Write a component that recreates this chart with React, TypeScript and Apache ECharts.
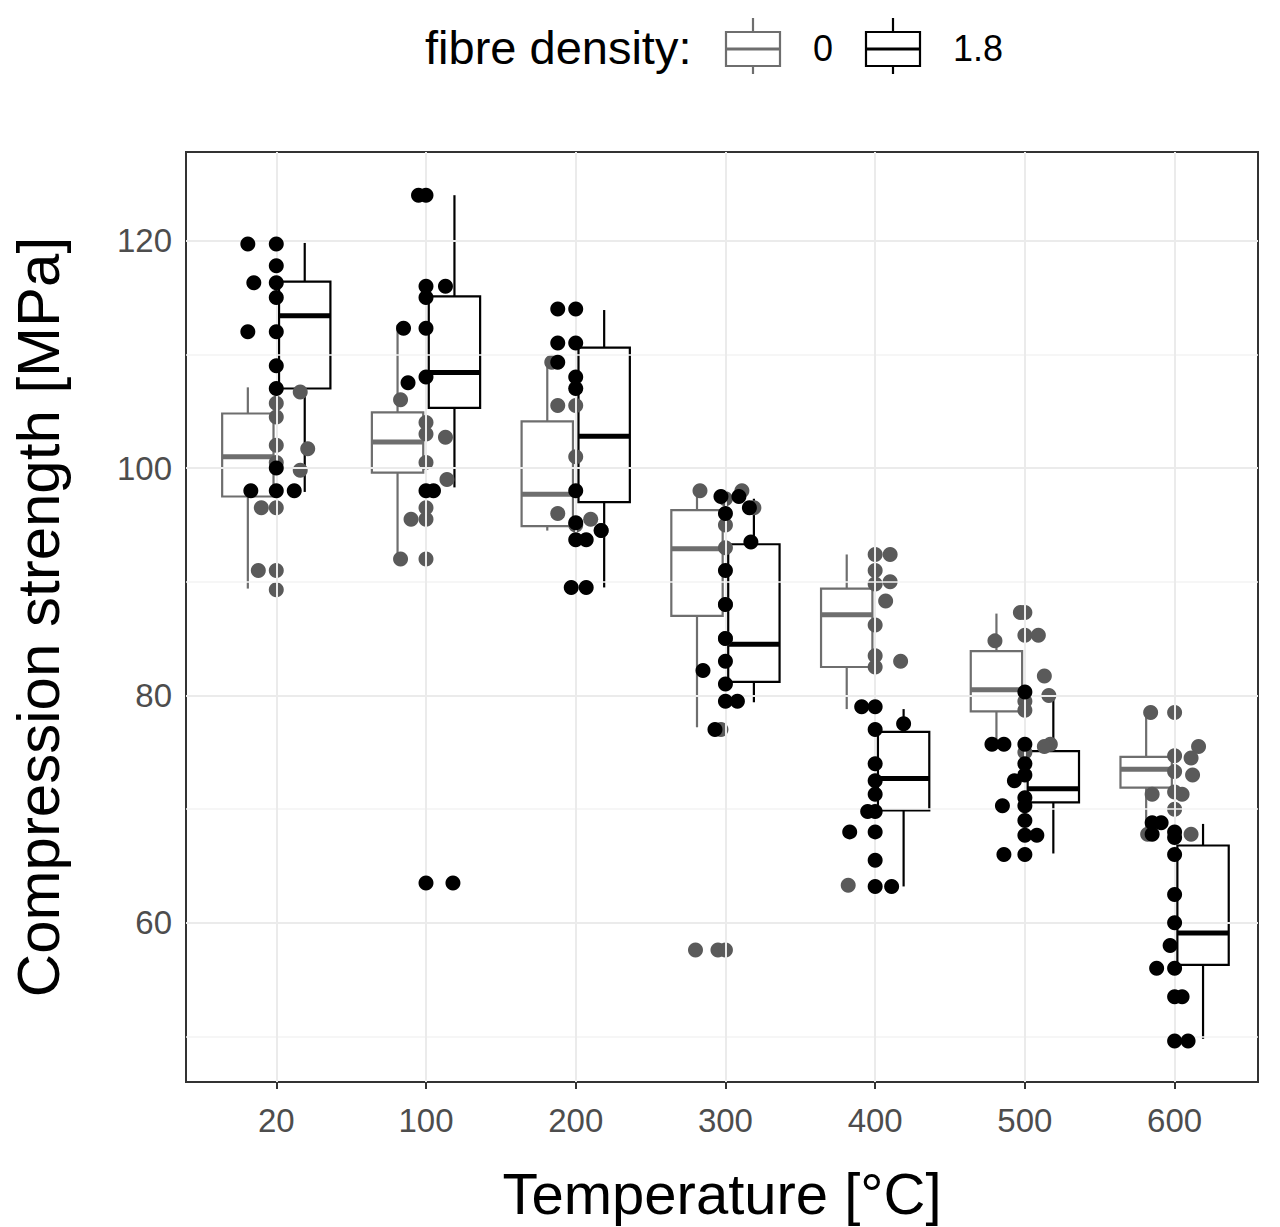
import React, { useEffect, useRef } from "react";
import * as echarts from "echarts";

const temps = ["20", "100", "200", "300", "400", "500", "600"];
const yTicks = [60, 80, 100, 120];
const yMinor = [50, 70, 90, 110];
// [q1, median, q3, whiskerLow, whiskerHigh]
const box0 = [
  [97.5, 101, 104.8, 89.4, 107.1],
  [99.6, 102.3, 104.9, 92, 112.6],
  [94.9, 97.7, 104.1, 94.5, 109.6],
  [87, 92.9, 96.3, 77.2, 98.3],
  [82.5, 87.1, 89.4, 78.8, 92.4],
  [78.6, 80.5, 83.9, 76, 87.2],
  [71.9, 73.5, 74.6, 67.8, 78.8],
];
const box18 = [
  [107, 113.4, 116.4, 97.9, 119.8],
  [105.3, 108.4, 115.1, 98.3, 124],
  [97, 102.8, 110.6, 89.5, 113.9],
  [81.2, 84.5, 93.3, 79.4, 97.3],
  [69.9, 72.7, 76.8, 63.2, 78.8],
  [70.6, 71.8, 75.1, 66.1, 80.3],
  [56.3, 59.1, 66.8, 49.8, 68.7],
];
// points: [category index, jitter offset, value]
const pts0 = [
  [0, 0, 105.7], [0, 0, 104.5], [0, 0, 102], [0, 0, 100.5], [0, 0.16, 99.8], [0, 0.21, 101.7], [0, -0.1, 96.5], [0, 0, 96.5], [0, -0.12, 91], [0, 0, 91], [0, 0, 89.3], [0, 0.16, 106.7],
  [1, -0.17, 106], [1, 0, 104], [1, 0, 103], [1, 0.13, 102.7], [1, 0, 100.5], [1, 0.14, 99], [1, -0.1, 95.5], [1, 0, 95.5], [1, -0.17, 92], [1, 0, 92], [1, 0, 96.5],
  [2, -0.16, 109.3], [2, -0.12, 105.5], [2, 0, 105.5], [2, 0, 101], [2, -0.12, 96], [2, 0, 95], [2, 0.1, 95.5], [2, 0.17, 94.5],
  [3, -0.17, 98], [3, 0.11, 98], [3, 0, 97.3], [3, 0, 95], [3, 0.19, 96.5], [3, 0, 93], [3, 0, 88], [3, 0, 85], [3, -0.03, 77], [3, -0.2, 57.6], [3, -0.05, 57.6], [3, 0, 57.6],
  [4, 0, 92.4], [4, 0.1, 92.4], [4, 0, 91], [4, 0.1, 90], [4, 0, 89.8], [4, 0.07, 88.3], [4, 0, 86.2], [4, 0, 83.5], [4, 0.17, 83], [4, 0, 82.5], [4, -0.18, 63.3],
  [5, -0.03, 87.3], [5, 0, 87.3], [5, 0, 85.3], [5, 0.09, 85.3], [5, -0.2, 84.8], [5, 0.13, 81.7], [5, 0, 79.5], [5, 0.16, 80], [5, 0, 78.7], [5, 0.17, 75.7], [5, 0, 75], [5, 0.13, 75.5],
  [6, -0.16, 78.5], [6, 0, 78.5], [6, 0.16, 75.5], [6, 0.11, 74.5], [6, 0, 74.7], [6, 0, 73.3], [6, 0.12, 73], [6, 0, 71.5], [6, 0.05, 71.3], [6, -0.15, 71.3], [6, 0, 70], [6, -0.18, 67.8], [6, 0.11, 67.8],
];
const pts18 = [
  [0, -0.19, 119.7], [0, 0, 119.7], [0, -0.15, 116.3], [0, 0, 116.3], [0, 0, 117.8], [0, 0, 115], [0, -0.19, 112], [0, 0, 112], [0, 0, 109], [0, 0, 107], [0, 0, 100], [0, 0, 98], [0, -0.17, 98], [0, 0.12, 98],
  [1, -0.05, 124], [1, 0, 124], [1, 0, 116], [1, 0.13, 116], [1, 0, 115], [1, -0.15, 112.3], [1, 0, 112.3], [1, -0.12, 107.5], [1, 0, 108], [1, 0, 98], [1, 0.05, 98], [1, 0, 63.5], [1, 0.18, 63.5],
  [2, -0.12, 114], [2, 0, 114], [2, -0.12, 111], [2, 0, 111], [2, -0.12, 109.3], [2, 0, 108], [2, 0, 107], [2, 0, 98], [2, 0, 95.2], [2, 0.17, 94.5], [2, 0, 93.7], [2, 0.07, 93.7], [2, -0.03, 89.5], [2, 0.07, 89.5],
  [3, -0.03, 97.5], [3, 0.09, 97.5], [3, 0, 96], [3, 0.16, 96.5], [3, 0.17, 93.5], [3, 0, 91], [3, 0, 88], [3, 0, 85], [3, 0, 83], [3, -0.15, 82.2], [3, 0, 81], [3, 0, 79.5], [3, 0.08, 79.5], [3, -0.07, 77],
  [4, -0.09, 79], [4, 0, 79], [4, 0, 77], [4, 0, 74], [4, 0, 72.5], [4, 0, 71.3], [4, -0.05, 69.8], [4, 0, 69.8], [4, -0.17, 68], [4, 0, 68], [4, 0, 65.5], [4, 0, 63.2], [4, 0.11, 63.2], [4, 0.19, 77.5],
  [5, -0.22, 75.7], [5, 0, 75.7], [5, -0.14, 75.7], [5, 0, 74], [5, 0, 73], [5, -0.07, 72.5], [5, 0, 71], [5, 0, 70.3], [5, -0.15, 70.3], [5, 0, 69], [5, 0, 67.7], [5, 0.08, 67.7], [5, -0.14, 66], [5, 0, 66], [5, 0, 80.3],
  [6, -0.15, 68.8], [6, -0.09, 68.8], [6, 0, 68], [6, 0, 67.5], [6, 0, 66], [6, -0.15, 67.8], [6, 0, 62.5], [6, 0, 60], [6, -0.03, 58], [6, -0.12, 56], [6, 0, 56], [6, 0, 53.5], [6, 0.05, 53.5], [6, 0, 49.6], [6, 0.09, 49.6],
];

const GRAY = "#6e6e6e";
const GRAYPT = "#5a5a5a";
const FONT = "Liberation Sans";

export default function App() {
  const ref = useRef<HTMLDivElement>(null);
  useEffect(() => {
    document.body.style.margin = "0";
    const chart = echarts.init(ref.current!, null, { renderer: "svg" });
    const boxData = [
      ...box0.map((b, i) => [i - 0.19, ...b, 0]),
      ...box18.map((b, i) => [i + 0.19, ...b, 1]),
    ];
    const renderBox = (params: any, api: any) => {
      const x = api.value(0);
      const g = api.value(6);
      const color = g === 0 ? GRAY : "#000";
      const w = api.size([0.343, 0])[0];
      const q1 = api.coord([x, api.value(1)]);
      const md = api.coord([x, api.value(2)]);
      const q3 = api.coord([x, api.value(3)]);
      const lo = api.coord([x, api.value(4)]);
      const hi = api.coord([x, api.value(5)]);
      const ls = { stroke: color, lineWidth: 2.2, fill: null };
      return {
        type: "group",
        children: [
          { type: "line", shape: { x1: lo[0], y1: lo[1], x2: q1[0], y2: q1[1] }, style: ls },
          { type: "line", shape: { x1: q3[0], y1: q3[1], x2: hi[0], y2: hi[1] }, style: ls },
          { type: "rect", shape: { x: q3[0] - w / 2, y: q3[1], width: w, height: q1[1] - q3[1] }, style: { stroke: color, lineWidth: 2.2, fill: "rgba(255,255,255,0.01)" } },
          { type: "line", shape: { x1: md[0] - w / 2, y1: md[1], x2: md[0] + w / 2, y2: md[1] }, style: { stroke: color, lineWidth: 5 } },
        ],
      };
    };
    const gridLine = { color: "#ebebeb", width: 2, type: "solid" };
    const minorLine = { color: "#f3f3f3", width: 1.5, type: "solid" };
    const legendGlyph = (x: number, color: string) => [
      { type: "line", shape: { x1: x + 27, y1: 18, x2: x + 27, y2: 74 }, style: { stroke: color, lineWidth: 2.2 } },
      { type: "rect", shape: { x, y: 32, width: 54, height: 34 }, style: { stroke: color, lineWidth: 2.2, fill: "#fff" } },
      { type: "line", shape: { x1: x, y1: 49, x2: x + 54, y2: 49 }, style: { stroke: color, lineWidth: 3 } },
    ];
    chart.setOption({
      animation: false,
      backgroundColor: "#fff",
      grid: { left: 166, right: 22, top: 152, bottom: 141, show: true, borderColor: "#333", borderWidth: 2 },
      xAxis: {
        type: "value", min: -0.603, max: 6.557,
        name: "Temperature [°C]", nameLocation: "middle", nameGap: 82,
        nameTextStyle: { fontSize: 58, color: "#000", fontFamily: FONT },
        axisLine: { show: false }, splitLine: { show: false },
        axisTick: { show: true, length: 7, lineStyle: { color: "#333", width: 2 }, customValues: temps.map((_, i) => i) },
        axisLabel: { fontSize: 33, color: "#4d4d4d", margin: 22, fontFamily: FONT, customValues: temps.map((_, i) => i), formatter: (v: number) => temps[Math.round(v)] },
      },
      yAxis: {
        type: "value", min: 46, max: 127.8,
        name: "Compression strength [MPa]", nameLocation: "middle", nameGap: 118,
        nameTextStyle: { fontSize: 60, color: "#000", fontFamily: FONT },
        axisLine: { show: false }, splitLine: { show: false },
        axisTick: { show: true, length: 7, lineStyle: { color: "#333", width: 2 }, customValues: yTicks },
        axisLabel: { fontSize: 33, color: "#4d4d4d", margin: 14, fontFamily: FONT, customValues: yTicks },
      },
      graphic: [
        { type: "text", left: 425, top: 24, style: { text: "fibre density:", fontSize: 47, fill: "#000", fontFamily: FONT } },
        ...legendGlyph(726, GRAY),
        { type: "text", left: 813, top: 30, style: { text: "0", fontSize: 36, fill: "#000", fontFamily: FONT } },
        ...legendGlyph(866, "#000"),
        { type: "text", left: 953, top: 30, style: { text: "1.8", fontSize: 36, fill: "#000", fontFamily: FONT } },
      ],
      series: [
        {
          type: "line", data: [], silent: true,
          markLine: {
            silent: true, symbol: "none", label: { show: false },
            data: [
              ...yMinor.map((v) => ({ yAxis: v, lineStyle: minorLine })),
              ...yTicks.map((v) => ({ yAxis: v, lineStyle: gridLine })),
              ...temps.map((_, i) => ({ xAxis: i, lineStyle: gridLine })),
            ],
          },
        },
        { type: "custom", renderItem: renderBox, data: boxData, z: 3 },
        { type: "scatter", data: pts0.map((p) => [p[0] + p[1], p[2]]), symbolSize: 15, itemStyle: { color: GRAYPT, opacity: 1 }, z: 4 },
        { type: "scatter", data: pts18.map((p) => [p[0] + p[1], p[2]]), symbolSize: 15, itemStyle: { color: "#000", opacity: 1 }, z: 5 },
      ],
    });
    return () => chart.dispose();
  }, []);
  return <div ref={ref} style={{ width: 1280, height: 1227 }} />;
}
